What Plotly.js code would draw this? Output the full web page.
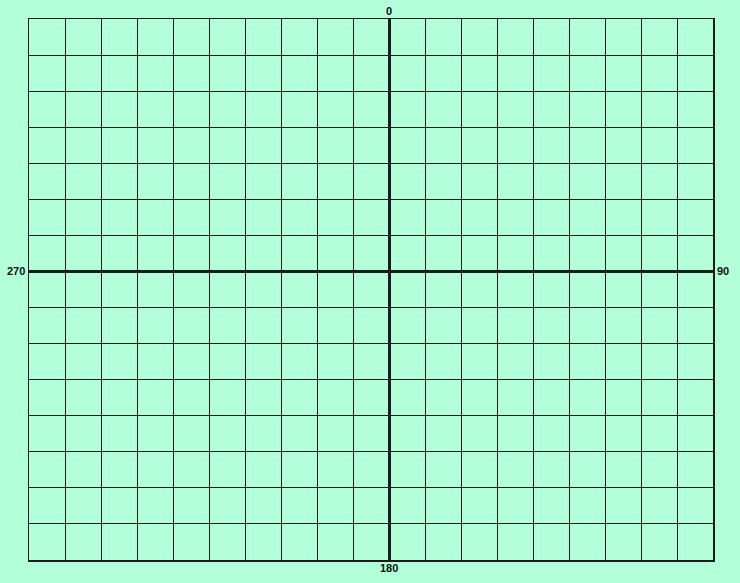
<!DOCTYPE html>
<html>
<head>
<meta charset="utf-8">
<script src="https://cdn.plot.ly/plotly-3.0.1.min.js"></script>
<style>html,body{margin:0;padding:0;background:#b3ffd9}</style>
</head>
<body>
<div id="chart" style="width:740px;height:583px"></div>
<script>
// grid extent in cells, centre cross at 0,0
const xRange = [-10, 9]
const yRange = [-8, 7]
// bearing labels around the cross
const bearingLabels = ['0', '90', '180', '270']
const bearingX = [0, 9, 0, -10]
const bearingY = [7, 0, -8, 0]
const anchorsX = ['center', 'left', 'center', 'right']
const anchorsY = ['bottom', 'middle', 'top', 'middle']

const grid = '#1c1c1c'

const axis = (range) => ({
  range: range, dtick: 1, showgrid: true, gridcolor: grid, gridwidth: 1,
  zeroline: true, zerolinecolor: grid, zerolinewidth: 3,
  showline: true, linecolor: grid, linewidth: 1.5, mirror: true,
  showticklabels: false, ticks: '', fixedrange: true
})

const layout = {
  width: 740, height: 583,
  margin: { l: 29, r: 27, t: 19, b: 23 },
  paper_bgcolor: '#b3ffd9', plot_bgcolor: '#b3ffd9',
  xaxis: axis(xRange),
  yaxis: axis(yRange),
  showlegend: false,
  annotations: bearingLabels.map((t, i) => ({
    text: t, x: bearingX[i], y: bearingY[i], xref: 'x', yref: 'y',
    xanchor: anchorsX[i], yanchor: anchorsY[i], showarrow: false,
    xshift: anchorsX[i] === 'left' ? 2 : anchorsX[i] === 'right' ? -2 : 0,
    font: { family: 'Liberation Sans, Arial', size: 11, color: '#111', weight: 'bold' }
  }))
}

Plotly.newPlot('chart', [{ x: [], y: [], type: 'scatter', mode: 'markers' }], layout,
  { displayModeBar: false, staticPlot: true })
</script>
</body>
</html>
